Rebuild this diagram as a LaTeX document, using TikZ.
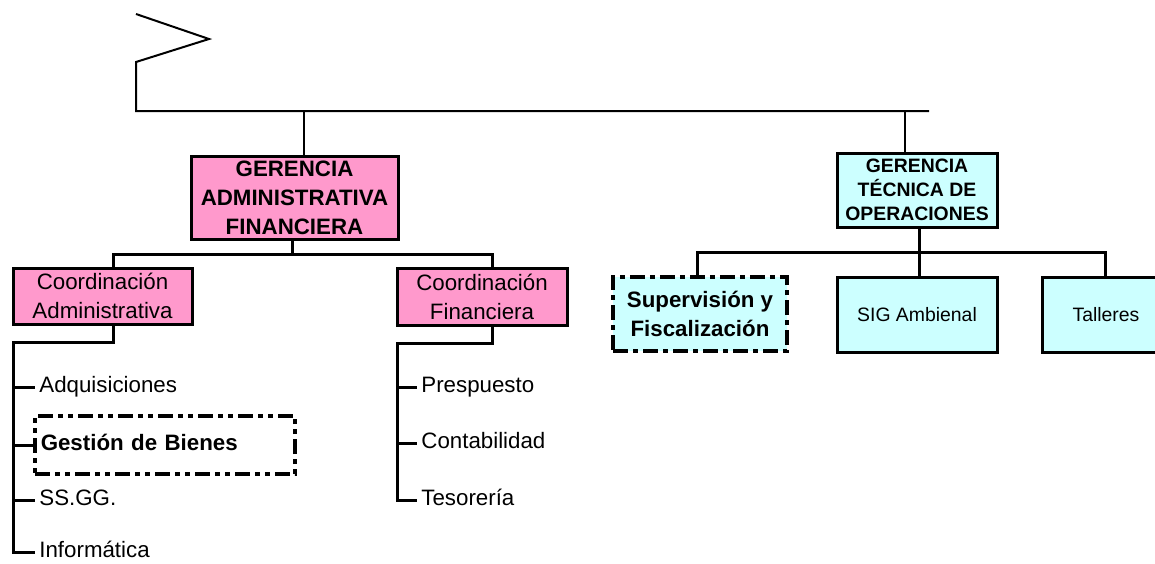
\documentclass[tikz,border=0pt]{standalone}
\usepackage{fontspec}
\setmainfont{Liberation Sans}
\usepackage{tikz}
\definecolor{pinkFill}{HTML}{FF99CC}
\definecolor{cyanFill}{HTML}{CCFFFF}
\newcommand{\mainsize}{\fontsize{11.15}{14.5}\selectfont}
\newcommand{\smallsize}{\fontsize{9.7}{12}\selectfont}
\tikzstyle{thinLine} = [line width=1pt]
\tikzstyle{bus} = [line width=1.5pt]
\tikzstyle{pinkRec} = [rectangle, draw=black, line width=1.5pt, fill=pinkFill, text centered, inner sep=0pt, font=\mainsize]
\tikzstyle{cyanRec} = [rectangle, draw=black, line width=1.5pt, fill=cyanFill, text centered, inner sep=0pt, font=\smallsize]
\tikzstyle{item} = [anchor=west, inner xsep=2pt, inner ysep=0pt, text height=8pt, text depth=2.3pt, font=\mainsize]
\tikzstyle{dashDot} = [line width=1.75pt, dash pattern=on 7.5pt off 2.5pt on 2.5pt off 2.5pt]
\tikzstyle{dashDotDot} = [line width=1.75pt, dash pattern=on 7.5pt off 2.5pt on 2.5pt off 2.5pt on 2.5pt off 2.5pt]

\begin{document}
\begin{tikzpicture}[x=0.5pt, y=-0.5pt, every text node part/.style={align=center}]
		\useasboundingbox (0,0) rectangle (1155,563);
		% managers
		\node (gaf) [pinkRec, minimum width=103.5pt, minimum height=41.5pt, font=\mainsize\bfseries] at (294.5,197.5) {GERENCIA\\ ADMINISTRATIVA\\ FINANCIERA};
		\node (gto) [cyanRec, minimum width=80pt, minimum height=37pt, font=\smallsize\bfseries] at (917,190) {GERENCIA\\ TÉCNICA DE\\ OPERACIONES};
		% coordinations
		\node (coordA) [pinkRec, minimum width=89.5pt, minimum height=28pt] at (102.5,296) {Coordinación\\ Administrativa};
		\node (coordF) [pinkRec, minimum width=85pt, minimum height=28.5pt] at (482,296.5) {Coordinación\\ Financiera};
		\node (superv) [cyanRec, dashDot, minimum width=87pt, minimum height=37pt, font=\mainsize\bfseries] at (700,314) {Supervisión y\\ Fiscalización};
		\node (sig) [cyanRec, minimum width=80pt, minimum height=37.5pt, below of=gto, node distance=62.25pt] {SIG Ambienal};
		\node (talleres) [cyanRec, minimum width=64pt, minimum height=37.5pt, right of=sig, node distance=94.5pt] {Talleres};
		% units
		\node (adq) [item] at (35,387) {Adquisiciones};
		\node (gestion) [item, dashDotDot, draw=black, inner xsep=3pt, text width=124pt, minimum height=29pt, font=\mainsize\bfseries, every text node part/.style={align=left}] at (33,445) {Gestión de Bienes};
		\node (ssgg) [item] at (35,500) {SS.GG.};
		\node (infor) [item] at (35,552) {Informática};
		\node (presp) [item] at (417,387) {Prespuesto};
		\node (conta) [item] at (417,443) {Contabilidad};
		\node (teso) [item] at (417,500) {Tesorería};
		% bus points
		\coordinate (topEnd) at (929,111);
		\coordinate (topA) at (304,111);
		\coordinate (topT) at (905,111);
		\coordinate (gafDrop) at (292,254);
		\coordinate (busA) at (113,254);
		\coordinate (busF) at (492,254);
		\coordinate (listA) at (13,342);
		\coordinate (listF) at (397,343);
		\coordinate (gtoDrop) at (919,252);
		\coordinate (busS) at (697,252);
		\coordinate (busT) at (1105,252);
		% top
		\draw [thinLine] (136,14) -- (209,39) -- (136,62) -- (136,111) -- (topEnd);
		\draw [thinLine] (topA) -- (gaf.north -| topA);
		\draw [thinLine] (topT) -- (gto.north -| topT);
		% administrativa financiera
		\draw [bus] (gaf.south -| gafDrop) -- (gafDrop);
		\draw [bus] (coordA.north -| busA) |- (busF) -- (coordF.north -| busF);
		\draw [bus] (coordA.south -| busA) |- (listA) |- (infor.west);
		\draw [bus] (adq.west -| listA) -- (adq.west);
		\draw [bus] (gestion.west -| listA) -- ([xshift=1pt]gestion.west);
		\draw [bus] (ssgg.west -| listA) -- (ssgg.west);
		\draw [bus] (coordF.south -| busF) |- (listF) |- (teso.west);
		\draw [bus] (presp.west -| listF) -- (presp.west);
		\draw [bus] (conta.west -| listF) -- (conta.west);
		% tecnica de operaciones
		\draw [bus] (gto.south -| gtoDrop) -- (sig.north -| gtoDrop);
		\draw [bus] (superv.north -| busS) |- (busT) -- (talleres.north -| busT);
	\end{tikzpicture}
\end{document}
